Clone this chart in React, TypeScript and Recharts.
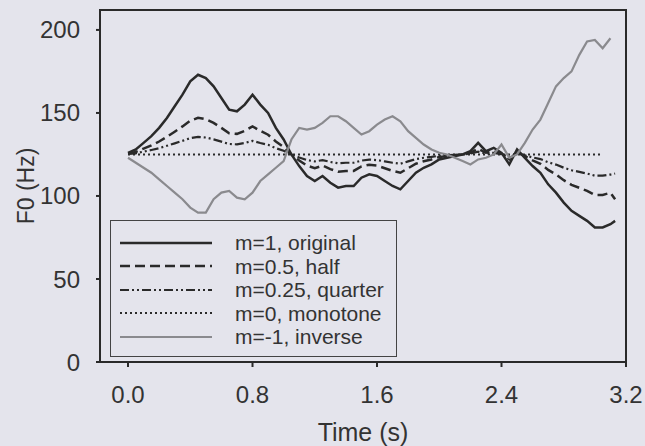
import React from 'react';
import { LineChart, Line, XAxis, YAxis, ReferenceArea, Legend } from 'recharts';

document.body.style.margin = '0';

const BG = '#e4e4ec';
const INK = '#2a2a2a';
const FONT = '"Liberation Sans", Arial, sans-serif';

// time axis (s)
const time = [
  0.0, 0.05, 0.1, 0.15, 0.2, 0.25, 0.3, 0.35, 0.4, 0.45,
  0.5, 0.55, 0.6, 0.65, 0.7, 0.75, 0.8, 0.85, 0.9, 0.95,
  1.0, 1.05, 1.1, 1.15, 1.2, 1.25, 1.3, 1.35, 1.4, 1.45,
  1.5, 1.55, 1.6, 1.65, 1.7, 1.75, 1.8, 1.85, 1.9, 1.95,
  2.0, 2.05, 2.1, 2.15, 2.2, 2.25, 2.3, 2.35, 2.4, 2.45,
  2.5, 2.55, 2.6, 2.65, 2.7, 2.75, 2.8, 2.85, 2.9, 2.95,
  3.0, 3.05, 3.1, 3.13,
];

// F0 contours (Hz)
const original = [
  126, 128, 132, 136, 141, 147, 154, 161, 169, 173,
  171, 166, 159, 152, 151, 155, 161, 155, 150, 141,
  134, 125, 118, 112, 109, 112, 108, 105, 106, 106,
  111, 113, 112, 109, 106, 104, 109, 114, 117, 119,
  122, 123, 124, 125, 127, 132, 127, 129, 126, 119,
  128, 123, 118, 114, 107, 102, 96, 91, 88, 85,
  81, 81, 83, 85,
];

const half = [
  125.5, 126.5, 128.5, 130.4, 132.8, 135.6, 138.7, 141.9, 145.3, 147.1,
  146.2, 144.0, 141.0, 137.8, 137.4, 139.2, 141.9, 139.2, 136.9, 132.8,
  129.4, 125.0, 121.4, 118.3, 116.7, 118.3, 116.2, 114.6, 115.1, 115.1,
  117.8, 118.8, 118.3, 116.7, 115.1, 114.0, 116.7, 119.4, 120.9, 122.0,
  123.5, 124.0, 124.5, 125.0, 126.0, 128.5, 126.0, 127.0, 125.5, 122.0,
  126.5, 124.0, 121.4, 119.4, 115.7, 112.9, 109.5, 106.7, 104.9, 103.1,
  100.6, 100.6, 101.9, 98.0,
];

const quarter = [
  125.3, 125.7, 126.7, 127.7, 128.8, 130.2, 131.7, 133.2, 134.8, 135.6,
  135.2, 134.1, 132.7, 131.3, 131.1, 131.9, 133.2, 131.9, 130.8, 128.8,
  127.2, 125.0, 123.2, 121.6, 120.8, 121.6, 120.5, 119.7, 120.0, 120.0,
  121.3, 121.9, 121.6, 120.8, 120.0, 119.4, 120.8, 122.2, 123.0, 123.5,
  124.2, 124.5, 124.7, 125.0, 125.5, 126.7, 125.5, 126.0, 125.2, 123.5,
  125.7, 124.5, 123.2, 122.2, 120.3, 118.9, 117.0, 115.5, 114.5, 113.5,
  112.2, 112.2, 112.9, 113.5,
];

const monotone = [
  125, 125, 125, 125, 125, 125, 125, 125, 125, 125,
  125, 125, 125, 125, 125, 125, 125, 125, 125, 125,
  125, 125, 125, 125, 125, 125, 125, 125, 125, 125,
  125, 125, 125, 125, 125, 125, 125, 125, 125, 125,
  125, 125, 125, 125, 125, 125, 125, 125, 125, 125,
  125, 125, 125, 125, 125, 125, 125, 125, 125, 125,
  125, 125, null, null,
];

const inverse = [
  123, 120, 117, 114, 110, 106, 102, 98, 93, 90,
  90, 98, 102, 103, 99, 98, 102, 109, 113, 117,
  121, 134, 141, 140, 141, 144, 148, 148, 145, 141,
  137, 139, 143, 146, 148, 145, 139, 135, 131, 128,
  126, 125, 123, 121, 119, 122, 123, 125, 131, 123,
  125, 132, 140, 146, 156, 166, 171, 175, 185, 193,
  194, 189, 195, null,
];

const xTicks = [0, 0.8, 1.6, 2.4, 3.2];
const yTicks = [0, 50, 100, 150, 200];

const data = time.map((t, i) => ({
  t,
  original: original[i],
  half: half[i],
  quarter: quarter[i],
  monotone: monotone[i],
  inverse: inverse[i],
}));

const series = [
  { key: 'original', name: 'm=1, original', color: INK, width: 2.5, dash: undefined },
  { key: 'half', name: 'm=0.5, half', color: INK, width: 2.5, dash: '10 5' },
  { key: 'quarter', name: 'm=0.25, quarter', color: INK, width: 2.2, dash: '9 3 2 3 2 3' },
  { key: 'monotone', name: 'm=0, monotone', color: INK, width: 2, dash: '2 3' },
  { key: 'inverse', name: 'm=-1, inverse', color: '#8a8a8e', width: 2.2, dash: undefined },
];

const renderLegend = () => (
  <div
    style={{
      width: 287,
      height: 137,
      boxSizing: 'border-box',
      border: '1.5px solid #444',
      background: BG,
      paddingTop: 10,
    }}
  >
    {series.map(s => (
      <div key={s.key} style={{ display: 'flex', alignItems: 'center', height: 23.5 }}>
        <svg width={92} height={8} style={{ marginLeft: 9 }}>
          <line
            x1={0}
            y1={4}
            x2={92}
            y2={4}
            stroke={s.color}
            strokeWidth={s.width}
            strokeDasharray={s.dash}
          />
        </svg>
        <span style={{ marginLeft: 23, fontSize: 21, fontFamily: FONT, color: '#333', lineHeight: 1 }}>
          {s.name}
        </span>
      </div>
    ))}
  </div>
);

const App: React.FC = () => {
  const tickStyle = { fill: '#333', fontSize: 24, fontFamily: FONT };

  return (
    <div style={{ width: 645, height: 446, background: BG }}>
      <LineChart width={645} height={446} data={data} margin={{ top: 10, right: 19, bottom: 0, left: 0 }}>
        <XAxis
          dataKey="t"
          type="number"
          domain={[-0.18, 3.2]}
          allowDataOverflow
          ticks={xTicks}
          tickFormatter={(v: number) => v.toFixed(1)}
          height={84}
          tickSize={5}
          tickMargin={19}
          tick={tickStyle}
          stroke={INK}
          strokeWidth={2}
          label={{ value: 'Time (s)', position: 'insideBottom', offset: 5, fill: '#333', fontSize: 25, fontFamily: FONT }}
        />
        <YAxis
          type="number"
          domain={[0, 212]}
          allowDataOverflow
          ticks={yTicks}
          width={100}
          tickSize={4}
          tickMargin={16}
          tick={tickStyle}
          stroke={INK}
          strokeWidth={2}
          label={() => (
            <text
              x={34}
              y={186}
              transform="rotate(-90 34 186)"
              textAnchor="middle"
              fill="#333"
              fontSize={23}
              fontFamily={FONT}
            >
              F0 (Hz)
            </text>
          )}
        />
        <ReferenceArea x1={-0.18} x2={3.2} y1={0} y2={212} fill="none" stroke={INK} strokeWidth={2} />
        {series.map(s => (
          <Line
            key={s.key}
            dataKey={s.key}
            name={s.name}
            type="linear"
            stroke={s.color}
            strokeWidth={s.width}
            strokeDasharray={s.dash}
            dot={false}
            activeDot={false}
            isAnimationActive={false}
          />
        ))}
        <Legend
          layout="vertical"
          align="center"
          verticalAlign="middle"
          content={renderLegend}
          wrapperStyle={{ left: 110, top: 220, width: 287, height: 137 }}
        />
      </LineChart>
    </div>
  );
};

export default App;
